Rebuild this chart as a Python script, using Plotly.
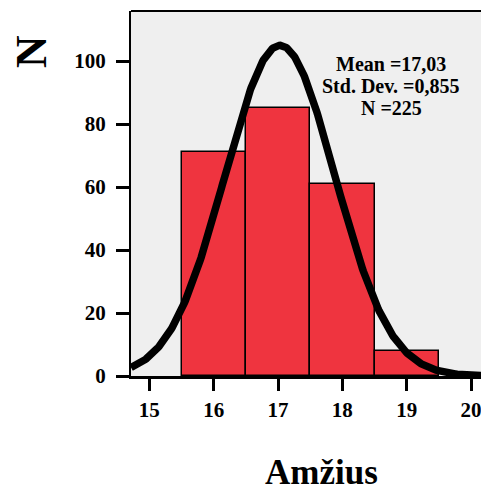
import numpy as np
import plotly.graph_objects as go

# Age histogram (bin centres and counts)
ages = [16, 17, 18, 19]
counts = [71, 85, 61, 8]

# Summary statistics shown in the legend box
mean_age = 17.03
std_age = 0.855
n_total = 225
bin_width = 1.0

x_ticks = [15, 16, 17, 18, 19, 20]
y_ticks = [0, 20, 40, 60, 80, 100]

x_range = [14.715, 20.155]
y_range = [0, 115.9]

# Fitted normal curve scaled to the histogram counts
xs = np.linspace(x_range[0], x_range[1], 400)
ys = n_total * bin_width / (std_age * np.sqrt(2 * np.pi)) * np.exp(-0.5 * ((xs - mean_age) / std_age) ** 2)

FONT = "Liberation Serif"

# Plot-area geometry (pixels) used to place free text
W, H = 481, 491
L, T, R, B = 131, 11, 0, 115
PW, PH = W - L - R, H - T - B


def px(x):
    return (x - L) / PW


def py(y):
    return (H - B - y) / PH


fig = go.Figure()
fig.add_trace(go.Bar(
    x=ages, y=counts, width=bin_width,
    marker=dict(color="#EF343F", line=dict(color="black", width=1.5)),
    hoverinfo="x+y",
))
fig.add_trace(go.Scatter(
    x=xs, y=ys, mode="lines",
    line=dict(color="black", width=7.5),
    hoverinfo="skip",
))

fig.update_layout(
    width=W, height=H,
    margin=dict(l=L, r=R, t=T, b=B),
    paper_bgcolor="white",
    plot_bgcolor="#EFEFEF",
    showlegend=False,
    bargap=0,
    font=dict(family=FONT, color="black"),
)

fig.update_xaxes(
    range=x_range, tickvals=x_ticks, ticktext=[str(v) for v in x_ticks],
    showgrid=False, zeroline=False,
    showline=True, linecolor="black", linewidth=3, mirror=False,
    ticks="outside", ticklen=12, tickwidth=3, tickcolor="black",
    tickfont=dict(family=FONT, size=21, weight="bold", color="black"),
    ticklabelstandoff=1, ticklabeloverflow="allow",
)
fig.update_yaxes(
    range=y_range, tickvals=y_ticks, ticktext=[str(v) for v in y_ticks],
    showgrid=False, zeroline=False,
    showline=True, linecolor="black", linewidth=2,
    ticks="outside", ticklen=13, tickwidth=3, tickcolor="black",
    tickfont=dict(family=FONT, size=21, weight="bold", color="black"),
    ticklabelstandoff=6, ticklabeloverflow="allow",
)

# Top frame line of the plot area
fig.add_shape(type="line", xref="paper", yref="paper", x0=0, x1=1, y0=1, y1=1,
              line=dict(color="black", width=2))

# Axis titles
fig.add_annotation(text="<b>N</b>", xref="paper", yref="paper", x=px(31), y=py(52),
                   xanchor="center", yanchor="middle",
                   showarrow=False, textangle=-90,
                   font=dict(family=FONT, size=45, color="black"))
fig.add_annotation(text="<b>Amžius</b>", xref="paper", yref="paper", x=px(321), y=py(473),
                   xanchor="center", yanchor="middle",
                   showarrow=False, font=dict(family=FONT, size=35, color="black"))

# Statistics box, one line per annotation
stat_lines = [
    "Mean =" + f"{mean_age:.2f}".replace(".", ","),
    "Std. Dev. =" + f"{std_age:.3f}".replace(".", ","),
    f"N ={n_total}",
]
for line, yc in zip(stat_lines, [64, 86, 108]):
    fig.add_annotation(
        text=f"<b>{line}</b>", xref="paper", yref="paper", x=px(391), y=py(yc),
        xanchor="center", yanchor="middle", showarrow=False, borderpad=0,
        font=dict(family=FONT, size=20, color="black"),
    )

fig.write_html("out.html")
